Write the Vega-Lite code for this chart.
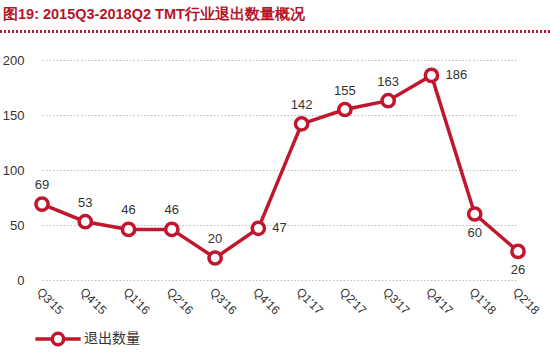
{
  "$schema": "https://vega.github.io/schema/vega-lite/v6.json",
  "width": 518,
  "height": 220,
  "autosize": {"type": "none"},
  "padding": {"left": 30, "top": 60, "right": 2, "bottom": 73},
  "background": "white",
  "title": {
    "text": "图19: 2015Q3-2018Q2 TMT行业退出数量概况",
    "anchor": "start",
    "frame": "group",
    "dx": -27,
    "offset": 8,
    "font": "Liberation Sans",
    "fontSize": 14.5,
    "fontWeight": "bold",
    "color": "#b5152b"
  },
  "config": {
    "view": {"stroke": null},
    "font": "Liberation Sans"
  },
  "data": {
    "values": [
      {"q": "Q3'15", "v": 69},
      {"q": "Q4'15", "v": 53},
      {"q": "Q1'16", "v": 46},
      {"q": "Q2'16", "v": 46},
      {"q": "Q3'16", "v": 20},
      {"q": "Q4'16", "v": 47},
      {"q": "Q1'17", "v": 142},
      {"q": "Q2'17", "v": 155},
      {"q": "Q3'17", "v": 163},
      {"q": "Q4'17", "v": 186},
      {"q": "Q1'18", "v": 60},
      {"q": "Q2'18", "v": 26}
    ]
  },
  "encoding": {
    "x": {
      "field": "q",
      "type": "ordinal",
      "sort": null,
      "scale": {"type": "point", "range": [12, 488], "padding": 0},
      "axis": {
        "title": null,
        "domain": false,
        "ticks": false,
        "grid": false,
        "labelAngle": 45,
        "labelAlign": "left",
        "labelBaseline": "top",
        "labelPadding": 6,
        "labelFontSize": 12,
        "labelColor": "#333333",
        "labelFont": "Liberation Sans"
      }
    },
    "y": {
      "field": "v",
      "type": "quantitative",
      "scale": {"domain": [0, 200], "nice": false},
      "axis": {
        "title": null,
        "values": [0, 50, 100, 150, 200],
        "domain": false,
        "ticks": false,
        "grid": true,
        "gridColor": "#bbbbbb",
        "gridDash": [1.5, 2],
        "gridWidth": 1,
        "labelPadding": 6,
        "labelFontSize": 13,
        "labelColor": "#333333",
        "labelFont": "Liberation Sans"
      }
    }
  },
  "layer": [
    {
      "mark": {"type": "rule", "stroke": "#b5152b", "strokeWidth": 1.5, "strokeDash": [2, 2], "opacity": 1},
      "encoding": {
        "x": {"value": -30},
        "x2": {"value": 520},
        "y": {"datum": 226}
      }
    },
    {
      "mark": {"type": "line", "strokeWidth": 3.5},
      "encoding": {
        "color": {
          "datum": "退出数量",
          "type": "nominal",
          "scale": {"range": ["#c0172f"]},
          "legend": {
            "title": null,
            "orient": "none",
            "legendX": 12,
            "legendY": 263,
            "symbolType": "M-1.6,0H-0.4M0.4,0H1.6M0.4,0A0.4,0.4,0,1,1,-0.4,0A0.4,0.4,0,1,1,0.4,0",
            "symbolSize": 800,
            "symbolStrokeWidth": 3.5,
            "symbolFillColor": "white",
            "labelFontSize": 14,
            "labelColor": "#333333",
            "labelFont": "Noto Sans CJK SC",
            "labelOffset": 10
          }
        }
      }
    },
    {
      "mark": {"type": "point", "shape": "circle", "filled": true, "fill": "white", "stroke": "#c0172f", "strokeWidth": 3.5, "size": 150, "opacity": 1}
    },
    {
      "transform": [{"filter": "indexof([\"Q4'16\", \"Q4'17\", \"Q1'18\", \"Q2'18\"], datum.q) < 0"}],
      "mark": {"type": "text", "dy": -19, "fontSize": 13, "color": "#333333", "font": "Liberation Sans"},
      "encoding": {"text": {"field": "v", "type": "quantitative"}}
    },
    {
      "transform": [{"filter": "indexof([\"Q4'16\", \"Q4'17\"], datum.q) >= 0"}],
      "mark": {"type": "text", "dx": 14, "align": "left", "fontSize": 13, "color": "#333333", "font": "Liberation Sans"},
      "encoding": {"text": {"field": "v", "type": "quantitative"}}
    },
    {
      "transform": [{"filter": "indexof([\"Q1'18\", \"Q2'18\"], datum.q) >= 0"}],
      "mark": {"type": "text", "dy": 19, "fontSize": 13, "color": "#333333", "font": "Liberation Sans"},
      "encoding": {"text": {"field": "v", "type": "quantitative"}}
    }
  ]
}
